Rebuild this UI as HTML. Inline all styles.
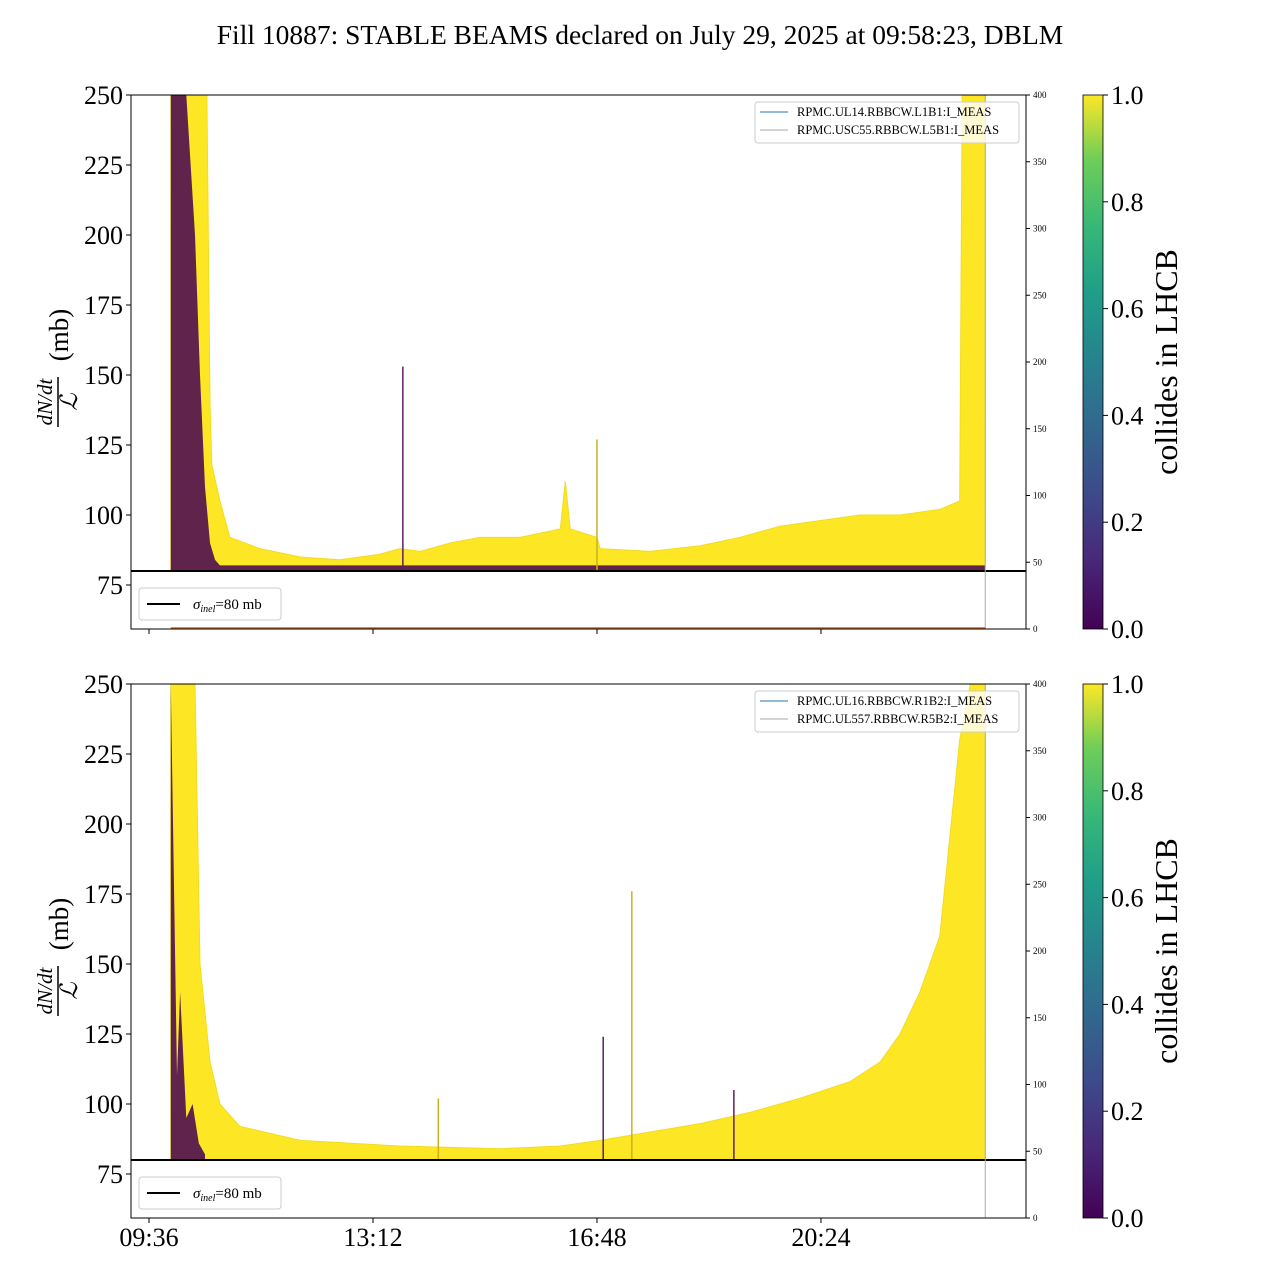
<!DOCTYPE html>
<html><head><meta charset="utf-8">
<style>
body{margin:0;background:#fff;}
svg text{font-family:"Liberation Serif",serif;}
</style></head>
<body>
<svg id="chart" width="1280" height="1280" viewBox="0 0 1280 1280" xmlns="http://www.w3.org/2000/svg">
<defs>
<linearGradient id="viridis" x1="0" y1="1" x2="0" y2="0">
<stop offset="0" stop-color="#440154"/><stop offset="0.13" stop-color="#482878"/><stop offset="0.25" stop-color="#3e4989"/><stop offset="0.38" stop-color="#31688e"/><stop offset="0.5" stop-color="#26828e"/><stop offset="0.63" stop-color="#1f9e89"/><stop offset="0.75" stop-color="#35b779"/><stop offset="0.88" stop-color="#6ece58"/><stop offset="1" stop-color="#fde725"/>
</linearGradient>
</defs>
<text x="640" y="44" font-size="27.5" text-anchor="middle">Fill 10887: STABLE BEAMS declared on July 29, 2025 at 09:58:23, DBLM</text>
<g id="panels"></g>
</svg>
<script>
// Data (hours of day, cross-section in mb)
const xTickLabels = ["09:36","13:12","16:48","20:24"];
const xTickHours = [9.6,13.2,16.8,20.4];
const yTicks = [75,100,125,150,175,200,225,250];
const rightTicks = [0,50,100,150,200,250,300,350,400];
const cbTicks = [0.0,0.2,0.4,0.6,0.8,1.0];
const sigmaInel = 80;
const endHour = 23.04;

const topHours = [9.95,10.34,10.53,10.58,10.61,10.74,10.90,11.38,12.03,12.67,13.31,13.63,13.96,14.44,14.92,15.56,16.21,16.29,16.37,16.80,16.85,17.65,18.46,19.10,19.74,20.38,21.03,21.67,22.31,22.63,22.67,22.96,23.04];
const topUpper = [250,250,250,140,118,105,92,88,85,84,86,88,87,90,92,92,95,112,95,92,88,87,89,92,96,98,100,100,102,105,250,250,250];
const topPurpleHours = [9.95,10.20,10.34,10.42,10.50,10.58,10.66,10.74,23.04];
const topPurpleUpper = [250,250,200,150,110,90,84,82,82];
const topSpikeHours = [13.68,16.80];
const topSpikeValues = [153,127];

const botHours = [9.95,10.34,10.42,10.58,10.74,11.06,12.03,13.63,15.24,16.21,16.85,17.65,18.46,19.26,20.06,20.87,21.35,21.67,21.99,22.31,22.63,22.80,23.04];
const botUpper = [250,250,150,115,100,92,87,85,84,85,87,90,93,97,102,108,115,125,140,160,230,250,250];
const botPurpleHours = [9.95,10.05,10.10,10.20,10.30,10.40,10.50];
const botPurpleUpper = [250,110,140,95,100,86,82];
const botSpikeHours = [16.90,17.36,19.00,14.25];
const botSpikeValues = [124,176,105,102];

const NS="http://www.w3.org/2000/svg";
const root=document.getElementById('panels');
function mk(tag,attrs,parent){const e=document.createElementNS(NS,tag);for(const k in attrs)e.setAttribute(k,attrs[k]);(parent||root).appendChild(e);return e;}

const X0=131,X1=1026,H0=9.6,PXH=62.22;
function xs(h){return 149+(h-H0)*PXH;}

function panel(top,hours,upper,pH,pU,sH,sV,leg1,leg2,idx,showXLabels){
  const bot=top+534;
  const ys=v=>top+(250-v)*2.8;
  const g=mk('g',{});
  
  
  const clipId='clip'+idx;
  const cp=mk('clipPath',{id:clipId},g);mk('rect',{x:X0,y:top,width:X1-X0,height:534},cp);
  const dg=mk('g',{'clip-path':'url(#'+clipId+')'},g);
  let d='M'+xs(hours[0])+','+ys(sigmaInel);
  hours.forEach((h,i)=>{d+=' L'+xs(h).toFixed(1)+','+ys(upper[i]).toFixed(1);});
  d+=' L'+xs(hours[hours.length-1])+','+ys(sigmaInel)+'Z';
  const yb=mk('path',{d:d,fill:'#fde725',stroke:'#f2dc20','stroke-width':1},dg);
  
  
  let p='M'+xs(pH[0])+','+ys(sigmaInel);
  pH.forEach((h,i)=>{p+=' L'+xs(h).toFixed(1)+','+ys(pU[i]).toFixed(1);});
  p+=' L'+xs(pH[pH.length-1])+','+ys(sigmaInel)+'Z';
  const pb=mk('path',{d:p,fill:'#440154','fill-opacity':0.85},dg);
  
  
  sH.forEach((h,i)=>{
    const s=mk('line',{x1:xs(h),x2:xs(h),y1:ys(sigmaInel),y2:ys(sV[i]),stroke:i%2?'#c9b020':'#5a2060','stroke-width':1.5},dg);
    
    
  });
  const sl=mk('line',{x1:X0,x2:X1,y1:ys(sigmaInel),y2:ys(sigmaInel),stroke:'#000','stroke-width':2},g);
  
  
  mk('line',{x1:xs(endHour),x2:xs(endHour),y1:top,y2:bot,stroke:'#aaa','stroke-width':1},g);
  if(idx===1) mk('line',{x1:xs(9.95),x2:xs(endHour),y1:bot-1,y2:bot-1,stroke:'#e06010','stroke-width':1.5},g);
  const fr=mk('rect',{x:X0,y:top,width:X1-X0,height:534,fill:'none',stroke:'#000','stroke-width':1},g);
  
  
  yTicks.forEach(v=>{
    mk('line',{x1:X0-5,x2:X0,y1:ys(v),y2:ys(v),stroke:'#000'},g);
    const t=mk('text',{x:X0-8,y:ys(v)+9,'font-size':26,'text-anchor':'end'},g);t.textContent=v;
    
    
  });
  rightTicks.forEach(v=>{
    const yy=bot-v*534/400;
    mk('line',{x1:X1,x2:X1+4,y1:yy,y2:yy,stroke:'#000'},g);
    const t=mk('text',{x:X1+7,y:yy+3,'font-size':9},g);t.textContent=v;
    
    
  });
  xTickHours.forEach((h,i)=>{
    mk('line',{x1:xs(h),x2:xs(h),y1:bot,y2:bot+5,stroke:'#000'},g);
    if(showXLabels){const t=mk('text',{x:xs(h),y:bot+28,'font-size':26,'text-anchor':'middle'},g);t.textContent=xTickLabels[i];
    
    }
  });
  const yl=mk('g',{transform:'translate(60,'+(top+262)+') rotate(-90)'},g);
  
  
  let t=mk('text',{x:-45,y:-8,'font-size':21,'font-style':'italic','text-anchor':'middle'},yl);t.textContent='dN/dt';
  mk('line',{x1:-70,x2:-20,y1:-2,y2:-2,stroke:'#000','stroke-width':1.5},yl);
  t=mk('text',{x:-45,y:17,'font-size':24,'font-style':'italic','text-anchor':'middle'},yl);t.textContent='ℒ';
  t=mk('text',{x:22,y:8,'font-size':27,'text-anchor':'middle'},yl);t.textContent='(mb)';
  const lg=mk('g',{},g);
  
  
  mk('rect',{x:755,y:top+7,width:264,height:41,rx:3,fill:'#fff','fill-opacity':0.8,stroke:'#ccc'},lg);
  mk('line',{x1:760,x2:788,y1:top+17,y2:top+17,stroke:'#1f77b4','stroke-width':1},lg);
  mk('line',{x1:760,x2:788,y1:top+35,y2:top+35,stroke:'#aaa','stroke-width':1},lg);
  t=mk('text',{x:797,y:top+21,'font-size':12.5},lg);t.textContent=leg1;
  t=mk('text',{x:797,y:top+39,'font-size':12.5},lg);t.textContent=leg2;
  const sg=mk('g',{},g);
  
  
  mk('rect',{x:139,y:bot-41,width:142,height:32,rx:3,fill:'#fff',stroke:'#ccc'},sg);
  mk('line',{x1:147,x2:180,y1:bot-25,y2:bot-25,stroke:'#000','stroke-width':2},sg);
  t=mk('text',{x:193,y:bot-20,'font-size':15},sg);
  t.innerHTML='<tspan font-style="italic">σ</tspan><tspan font-size="10" font-style="italic" dy="3">inel</tspan><tspan dy="-3">=80 mb</tspan>';
  const cb=mk('g',{},g);
  
  
  mk('rect',{x:1083,y:top,width:20,height:534,fill:'url(#viridis)',stroke:'#000','stroke-width':0.8},cb);
  cbTicks.forEach(v=>{
    const yy=bot-v*534;
    mk('line',{x1:1103,x2:1108,y1:yy,y2:yy,stroke:'#000'},cb);
    const tt=mk('text',{x:1111,y:yy+9,'font-size':26},cb);tt.textContent=v.toFixed(1);
  });
  const cl=mk('text',{x:0,y:0,'font-size':32,'text-anchor':'middle',transform:'translate(1177,'+(top+267)+') rotate(-90)'},cb);
  cl.textContent='collides in LHCB';
}
panel(95,topHours,topUpper,topPurpleHours,topPurpleUpper,topSpikeHours,topSpikeValues,'RPMC.UL14.RBBCW.L1B1:I_MEAS','RPMC.USC55.RBBCW.L5B1:I_MEAS',1,false);
panel(684,botHours,botUpper,botPurpleHours,botPurpleUpper,botSpikeHours,botSpikeValues,'RPMC.UL16.RBBCW.R1B2:I_MEAS','RPMC.UL557.RBBCW.R5B2:I_MEAS',2,true);
</script>
</body></html>
